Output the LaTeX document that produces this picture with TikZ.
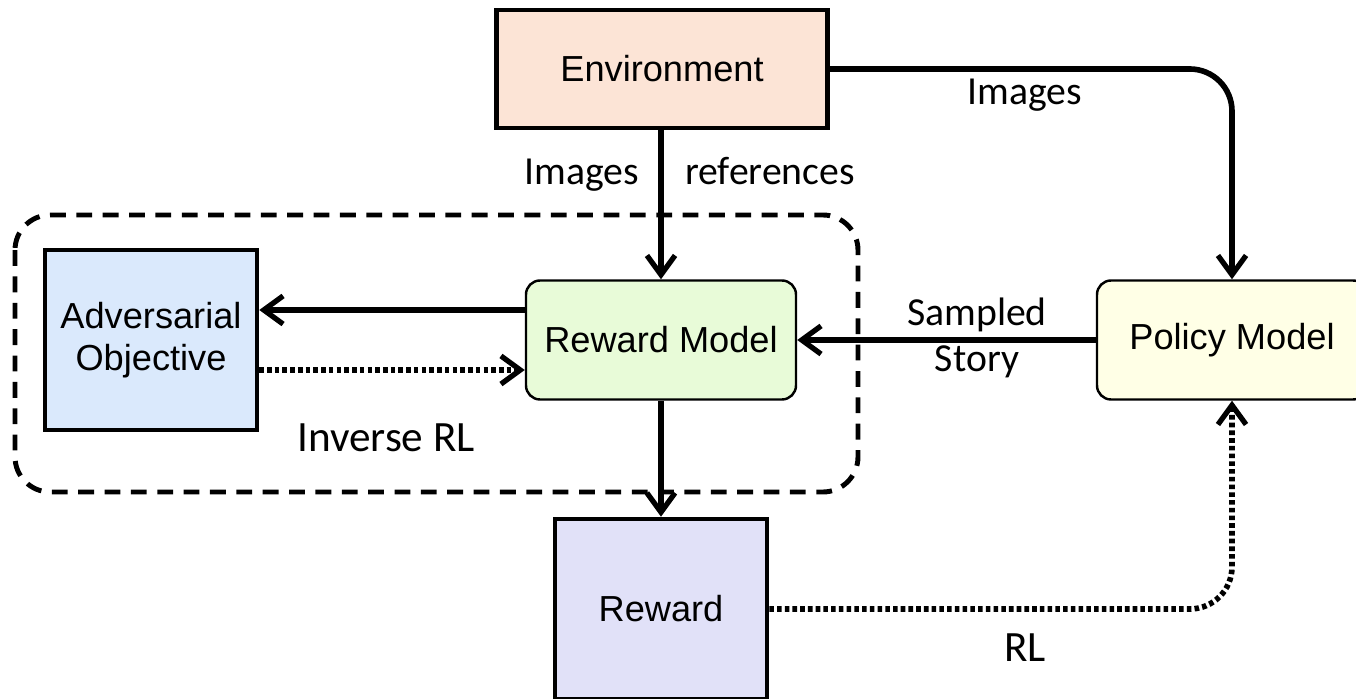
\documentclass[tikz,border=0pt]{standalone}
\usepackage{fontspec}
\setmainfont{Liberation Sans}
\newfontfamily\lblfont{Carlito}
\usetikzlibrary{arrows.meta,calc}

\definecolor{envfill}{RGB}{252,228,214}
\definecolor{advfill}{RGB}{218,233,252}
\definecolor{rmfill}{RGB}{232,251,216}
\definecolor{pmfill}{RGB}{255,255,230}
\definecolor{rwfill}{RGB}{225,225,248}

\begin{document}
\begin{tikzpicture}[
  blk/.style={draw, line width=1.3pt, inner sep=0pt, align=center,
    font=\fontsize{10.3}{12}\selectfont},
  mdl/.style={blk, line width=0.7pt, rounded corners=4pt},
  flow/.style={line width=1.6pt, -{Straight Barb[length=5.5pt,width=8pt,line width=1.5pt]}},
  dots/.style={flow, dash pattern=on 1.3pt off 0.9pt},
  lbl/.style={font=\lblfont\fontsize{11.3}{13.5}\selectfont, align=center, anchor=base}]
  \useasboundingbox (0,0) rectangle (13.56,-6.99);
  \clip (0,0) rectangle (13.56,-6.99);

  % group of the inverse RL part
  \draw[line width=1.4pt, dash pattern=on 4.5pt off 3pt, rounded corners=10pt]
    (0.15,-2.15) rectangle (8.58,-4.92);

  \node[blk, fill=envfill, minimum width=3.31cm, minimum height=1.18cm] (env) at (6.62,-0.69) {Environment};
  \node[blk, fill=advfill, minimum width=2.12cm, minimum height=1.80cm] (adv) at (1.51,-3.40) {Adversarial\\Objective};
  \node[mdl, fill=rmfill, minimum width=2.70cm, minimum height=1.19cm] (rm) at (6.61,-3.40) {Reward Model};
  \node[mdl, fill=pmfill, minimum width=2.70cm, minimum height=1.19cm] (pm) at (12.32,-3.40) {Policy Model};
  \node[blk, fill=rwfill, minimum width=2.12cm, minimum height=1.80cm] (rw) at (6.61,-6.09) {Reward};

  \coordinate (rmout) at ($(rm.west)+(0,0.30)$);
  \coordinate (advout) at ($(adv.east)+(0,-0.30)$);

  \draw[flow] (rm.north |- env.south) -- (rm.north);
  \draw[flow, rounded corners=12pt] (env.east) -- (env.east -| pm.north) -- (pm.north);
  \draw[flow] (rmout) -- (rmout -| adv.east);
  \draw[dots] (advout) -- (advout -| rm.west);
  \draw[flow] (pm.west) -- (rm.east);
  \draw[flow] (rm.south) -- (rw.north);
  \draw[dots, rounded corners=12pt] (rw.east) -- (rw.east -| pm.south) -- (pm.south);

  \node[lbl] (lima) at (5.82,-1.85) {Images};
  \node[lbl] (lref) at (7.70,-1.85) {references};
  \node[lbl] (limb) at (10.25,-1.05) {Images};
  \node[lbl] (lsmp) at (9.77,-3.26) {Sampled};
  \node[lbl] (lsty) at (9.77,-3.72) {Story};
  \node[lbl, font=\lblfont\fontsize{12.3}{14}\selectfont] (linv) at (3.86,-4.52) {Inverse RL};
  \node[lbl, font=\lblfont\fontsize{12.3}{14}\selectfont] (lrl) at (10.25,-6.62) {RL};
\end{tikzpicture}
\end{document}
